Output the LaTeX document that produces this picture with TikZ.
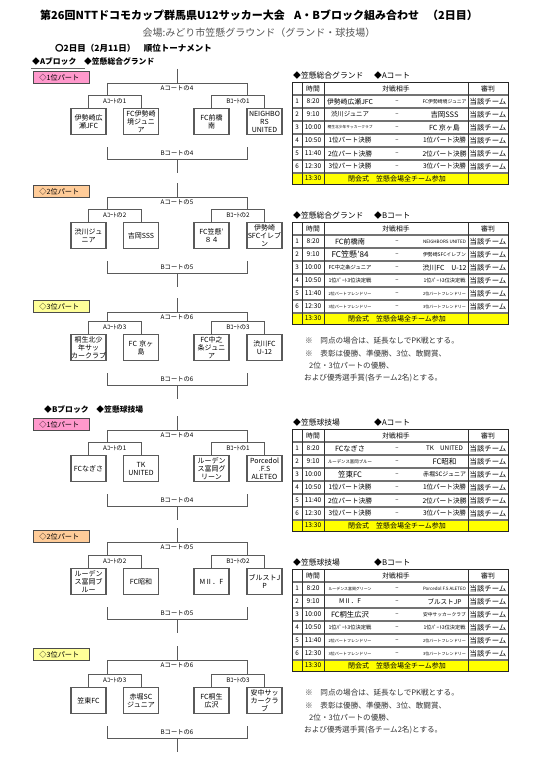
\documentclass[tikz,border=0pt]{standalone}
\usepackage{fontspec}
\setmainfont{Noto Sans CJK JP}
\usepackage{graphicx}
\definecolor{lnc}{HTML}{5A5A5A}
\definecolor{pinkf}{HTML}{FF99CC}
\definecolor{orangef}{HTML}{FFCC99}
\definecolor{ylabf}{HTML}{FFFF99}
\definecolor{ytab}{HTML}{FFFF00}
\definecolor{notec}{HTML}{333333}
\definecolor{subc}{HTML}{555555}

\tikzset{
 conn/.style={draw=lnc, line width=0.9pt},
 teambox/.style={draw=lnc, line width=1.1pt, fill=white, minimum width=35pt, minimum height=26pt, text width=35pt, inner sep=0pt, align=center, anchor=north, font=\fontsize{7}{8}\selectfont},
 partbox/.style={draw=black!70, line width=0.8pt, minimum width=56pt, minimum height=12pt, anchor=north west, inner xsep=6pt, inner ysep=0pt, text width=44pt, align=left, font=\fontsize{7.2}{8}\selectfont},
 clabel/.style={inner sep=0pt, font=\fontsize{6.3}{7}\selectfont},
 ttitle/.style={inner sep=0pt, font=\fontsize{7.8}{8}\selectfont},
 tcell/.style={inner sep=0pt, font=\fontsize{6.8}{7}\selectfont},
 tnum/.style={inner sep=0pt, font=\fontsize{6.3}{7}\selectfont},
 ttime/.style={inner sep=0pt, font=\fontsize{6.6}{7}\selectfont},
 tdash/.style={inner sep=0pt, font=\fontsize{6}{7}\selectfont},
 tref/.style={inner sep=0pt, font=\fontsize{7.4}{8}\selectfont},
 rowline/.style={draw=black!55, line width=1.1pt},
 colline/.style={draw=black!80, line width=0.7pt},
 tframe/.style={draw=black!85, line width=0.9pt},
 note/.style={inner sep=0pt, text=notec, font=\fontsize{7.6}{8}\selectfont},
 headb/.style={inner sep=0pt, font=\bfseries\fontsize{11}{12}\selectfont},
}

% bracket: #1 prefix, #2 label-box top, #3 team-box top, #4 colour, #5 part label, #6 sub number, #7 top number
\newcommand\mkbracket[7]{%
 \node[partbox, fill=#4] (#1part) at (33,#2) {#5};
 \coordinate (#1s0) at (177,{#2-2});
 \coordinate (#1s1) at (177,{#2+12});
 \coordinate (#1hl) at (107,{#2+12});
 \coordinate (#1hr) at (247,{#2+12});
 \coordinate (#1vl) at (107,{#3-13});
 \coordinate (#1vr) at (247,{#3-13});
 \coordinate (#1a1) at (88.5,{#3-13});
 \coordinate (#1a2) at (141,{#3-13});
 \coordinate (#1a3) at (211.5,{#3-13});
 \coordinate (#1a4) at (264.5,{#3-13});
 \node[teambox] (#1t1) at (88.5,#3) {\teamI};
 \node[teambox] (#1t2) at (141,#3) {\teamII};
 \node[teambox] (#1t3) at (211.5,#3) {\teamIII};
 \node[teambox] (#1t4) at (264.5,#3) {\teamIV};
 \draw[conn] (#1s0) -- (#1s1);
 \draw[conn] (#1hl) -- (#1hr);
 \draw[conn] (#1hl) -- (#1vl);
 \draw[conn] (#1hr) -- (#1vr);
 \draw[conn] (#1t1.north) -- (#1a1) -- (#1a2) -- (#1t2.north);
 \draw[conn] (#1t3.north) -- (#1a3) -- (#1a4) -- (#1t4.north);
 \node[clabel] (#1top) at (177,{#2+17.5}) {Aコートの#7};
 \node[clabel] (#1subA) at (114.75,{#3-6.5}) {Aｺｰﾄの#6};
 \node[clabel] (#1subB) at (238,{#3-6.5}) {Bｺｰﾄの#6};
 \coordinate (#1b1) at (107,{#3+39});
 \coordinate (#1b2) at (107,{#3+51});
 \coordinate (#1b3) at (247,{#3+51});
 \coordinate (#1b4) at (247,{#3+39});
 \coordinate (#1bs0) at (177,{#3+51});
 \coordinate (#1bs1) at (177,{#3+65});
 \draw[conn] (#1b1) -- (#1b2) -- (#1b3) -- (#1b4);
 \draw[conn] (#1bs0) -- (#1bs1);
 \node[clabel] (#1bot) at (177,{#3+45}) {Bコートの#7};
}

% table: #1 prefix, #2 top, #3 title1, #4 title2
\newcommand\mktable[4]{%
 \fill[ytab] (292,{#2+91}) rectangle (508,{#2+102});
 \foreach \k in {1,...,7} {\draw[rowline] (292,{#2+13*\k}) -- (508,{#2+13*\k});}
 \foreach \xx in {302,324,468} {\draw[colline] (\xx,#2) -- (\xx,{#2+102});}
 \draw[tframe] (292,#2) rectangle (508,{#2+102});
 \node[ttitle,anchor=west] (#1tiA) at (293,{#2-6}) {#3};
 \node[ttitle,anchor=west] (#1tiB) at (374,{#2-6}) {#4};
 \node[tcell] (#1hT) at (313,{#2+6.5}) {時間};
 \node[tcell] (#1hM) at (396,{#2+6.5}) {対戦相手};
 \node[tcell] (#1hR) at (488,{#2+6.5}) {審判};
 \foreach \k/\tm in {1/8:20,2/9:10,3/10:00,4/10:50,5/11:40,6/12:30} {
   \node[tnum] (#1n\k) at (297,{#2+13*\k+6.5}) {\k};
   \node[ttime] (#1m\k) at (313,{#2+13*\k+6.5}) {\tm};
   \node[tdash] (#1d\k) at (397,{#2+13*\k+6.5}) {–};
   \node[tref] (#1r\k) at (488,{#2+13*\k+6.5}) {当該チーム};
 }
 \node[ttime] (#1ym) at (313,{#2+96.5}) {13:30};
 \node[tcell,font=\fontsize{7}{7}\selectfont] (#1ye) at (397,{#2+96.5}) {閉会式　笠懸会場全チーム参加};
}

% row teams: #1 prefix, #2 top, #3 row, #4 width1, #5 team1, #6 width2, #7 team2
\newcommand\trow[7]{%
 \node[tcell] (#1a#3) at (350,{#2+13*#3+6.5}) {\resizebox{#4pt}{!}{#5}};
 \node[tcell] (#1b#3) at (444.5,{#2+13*#3+6.5}) {\resizebox{#6pt}{!}{#7}};
}

\newcommand\mknotes[2]{%
 \node[note,anchor=west] (#1n1) at (305,#2) {※　同点の場合は、延長なしでPK戦とする。};
 \node[note,anchor=west] (#1n2) at (305,{#2+12.5}) {※　表彰は優勝、準優勝、3位、敢闘賞、};
 \node[note,anchor=west] (#1n3) at (309,{#2+25}) {2位・3位パートの優勝、};
 \node[note,anchor=west] (#1n4) at (304,{#2+37.5}) {および優秀選手賞(各チーム2名)とする。};
}

\begin{document}
\begin{tikzpicture}[x=1pt,y=-1pt]
\useasboundingbox (0,0) rectangle (550,765);
\fill[white] (0,0) rectangle (550,765);

% headings
\node[headb,anchor=west] (titleA) at (40,15) {第26回NTTドコモカップ群馬県U12サッカー大会};
\node[headb,anchor=west] (titleB) at (294,15) {A・Bブロック組み合わせ};
\node[headb,anchor=east] (titleC) at (478,15) {（2日目）};
\node[inner sep=0pt, text=subc, font=\fontsize{10}{11}\selectfont] (venue) at (259,33) {会場:みどり市笠懸グラウンド（グランド・球技場）};
\node[inner sep=0pt, anchor=west, font=\bfseries\fontsize{8.5}{9}\selectfont] (day) at (55,48) {〇2日目（2月11日）　順位トーナメント};
\node[inner sep=0pt, anchor=west, font=\bfseries\fontsize{7.8}{8}\selectfont] (blockA) at (32,61) {◆Aブロック　◆笠懸総合グランド};
\draw[draw=black!60, line width=0.6pt] (31,68.5) -- (85,68.5);
\node[inner sep=0pt, anchor=west, font=\bfseries\fontsize{7.8}{8}\selectfont] (blockB) at (44,410) {◆Bブロック　◆笠懸球技場};

% A block brackets
\def\teamI{伊勢崎広\\瀬JFC}\def\teamII{FC伊勢崎\\境ジュニ\\ア}\def\teamIII{FC前橋\\南}\def\teamIV{NEIGHBO\\RS\\UNITED}
\mkbracket{Aa}{71}{108}{pinkf}{◇1位パート}{1}{4}
\def\teamI{渋川ジュ\\ニア}\def\teamII{吉岡SSS}\def\teamIII{FC笠懸’\\８４}\def\teamIV{伊勢崎\\SFCイレブ\\ン}
\mkbracket{Ab}{185}{222}{orangef}{◇2位パート}{2}{5}
\def\teamI{桐生北少\\年サッ\\カークラブ}\def\teamII{FC 京ヶ\\島}\def\teamIII{FC中之\\条ジュニ\\ア}\def\teamIV{渋川FC\\U-12}
\mkbracket{Ac}{300}{334}{ylabf}{◇3位パート}{3}{6}

% B block brackets
\def\teamI{FCなぎさ}\def\teamII{TK\\UNITED}\def\teamIII{ルーデン\\ス富岡グ\\リーン}\def\teamIV{Porcedol\\.F.S\\ALETEO}
\mkbracket{Ba}{418}{455}{pinkf}{◇1位パート}{1}{4}
\def\teamI{ルーデン\\ス富岡ブ\\ルー}\def\teamII{FC昭和}\def\teamIII{MⅡ．F}\def\teamIV{ブルストJ\\P}
\mkbracket{Bb}{530}{568}{orangef}{◇2位パート}{2}{5}
\def\teamI{笠東FC}\def\teamII{赤堀SC\\ジュニア}\def\teamIII{FC桐生\\広沢}\def\teamIV{安中サッ\\カークラ\\ブ}
\mkbracket{Bc}{648}{687}{ylabf}{◇3位パート}{3}{6}

% tables
\mktable{TAA}{82}{◆笠懸総合グランド}{◆Aコート}
\trow{TAA}{82}{1}{46}{伊勢崎広瀬JFC}{44}{FC伊勢崎境ジュニア}
\trow{TAA}{82}{2}{38}{渋川ジュニア}{28}{吉岡SSS}
\trow{TAA}{82}{3}{45}{桐生北少年サッカークラブ}{31}{FC 京ヶ島}
\trow{TAA}{82}{4}{43}{1位パート決勝}{43}{1位パート決勝}
\trow{TAA}{82}{5}{44}{2位パート決勝}{44}{2位パート決勝}
\trow{TAA}{82}{6}{43}{3位パート決勝}{43}{3位パート決勝}

\mktable{TAB}{222}{◆笠懸総合グランド}{◆Bコート}
\trow{TAB}{222}{1}{30}{FC前橋南}{43}{NEIGHBORS UNITED}
\trow{TAB}{222}{2}{37}{FC笠懸’84}{43}{伊勢崎SFCイレブン}
\trow{TAB}{222}{3}{43}{FC中之条ジュニア}{44}{渋川FC　U-12}
\trow{TAB}{222}{4}{43}{1位ﾊﾟｰﾄ3位決定戦}{42}{1位ﾊﾟｰﾄ3位決定戦}
\trow{TAB}{222}{5}{43}{2位パートフレンドリー}{43}{2位パートフレンドリー}
\trow{TAB}{222}{6}{43}{3位パートフレンドリー}{43}{3位パートフレンドリー}
\mknotes{NA}{341}

\mktable{TBA}{429}{◆笠懸球技場}{◆Aコート}
\trow{TBA}{429}{1}{30}{FCなぎさ}{37}{TK　UNITED}
\trow{TBA}{429}{2}{44}{ルーデンス富岡ブルー}{24}{FC昭和}
\trow{TBA}{429}{3}{24}{笠東FC}{43}{赤堀SCジュニア}
\trow{TBA}{429}{4}{43}{1位パート決勝}{43}{1位パート決勝}
\trow{TBA}{429}{5}{44}{2位パート決勝}{44}{2位パート決勝}
\trow{TBA}{429}{6}{43}{3位パート決勝}{43}{3位パート決勝}

\mktable{TBB}{569}{◆笠懸球技場}{◆Bコート}
\trow{TBB}{569}{1}{43}{ルーデンス富岡グリーン}{43}{Porcedol F.S ALETEO}
\trow{TBB}{569}{2}{22}{MⅡ．F}{34}{ブルストJP}
\trow{TBB}{569}{3}{38}{FC桐生広沢}{43}{安中サッカークラブ}
\trow{TBB}{569}{4}{43}{1位ﾊﾟｰﾄ3位決定戦}{42}{1位ﾊﾟｰﾄ3位決定戦}
\trow{TBB}{569}{5}{43}{2位パートフレンドリー}{43}{2位パートフレンドリー}
\trow{TBB}{569}{6}{43}{3位パートフレンドリー}{43}{3位パートフレンドリー}
\mknotes{NB}{693}
\end{tikzpicture}
\end{document}
